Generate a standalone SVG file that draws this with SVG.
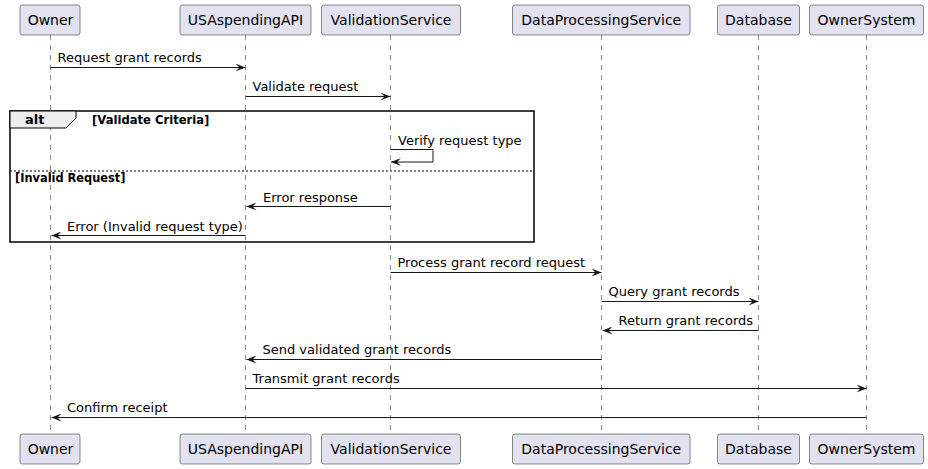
<svg xmlns="http://www.w3.org/2000/svg" width="928" height="469" viewBox="0 0 928 469">
<defs>
<style>
.box{fill:#E2E2F0;stroke:#181818;stroke-width:0.5}
.pt{font-family:"DejaVu Sans",sans-serif;font-size:14px;fill:#000;text-anchor:middle}
.life{stroke:#181818;stroke-width:0.5;stroke-dasharray:5,5;fill:none}
.msg{stroke:#181818;stroke-width:1;fill:none}
.mt{font-family:"DejaVu Sans",sans-serif;font-size:13px;fill:#000}
.bold{font-family:"DejaVu Sans",sans-serif;font-weight:bold;fill:#000}
</style>
<marker id="ah" viewBox="0 0 10 8" refX="10" refY="4" markerWidth="10" markerHeight="8" markerUnits="userSpaceOnUse" orient="auto">
<polygon points="0,0 10,4 0,8 4,4" fill="#181818"/>
</marker>
</defs>
<rect width="928" height="469" fill="#FFFFFF"/>
<g id="lifelines">
<line class="life" x1="50.5" y1="35" x2="50.5" y2="434"/>
<line class="life" x1="245.5" y1="35" x2="245.5" y2="434"/>
<line class="life" x1="390.5" y1="35" x2="390.5" y2="434"/>
<line class="life" x1="601.5" y1="35" x2="601.5" y2="434"/>
<line class="life" x1="758.5" y1="35" x2="758.5" y2="434"/>
<line class="life" x1="866.5" y1="35" x2="866.5" y2="434"/>
</g>
<g id="alt-frame">
<rect x="10" y="111" width="524" height="131" fill="none" stroke="#000" stroke-width="1.5"/>
<path d="M10,111 H76 V118 L66,128 H10 Z" fill="#EEEEEE" stroke="#000" stroke-width="1"/>
<text class="bold" x="25" y="124" font-size="13">alt</text>
<text class="bold" x="92" y="124" font-size="11.6">[Validate Criteria]</text>
<line x1="10" y1="171" x2="534" y2="171" stroke="#000" stroke-width="1" stroke-dasharray="2,2"/>
<text class="bold" x="15" y="182" font-size="11.4">[Invalid Request]</text>
</g>
<g id="p-owner">
<rect class="box" x="20" y="5" width="60" height="30" rx="2.5"/>
<text class="pt" x="50.5" y="25">Owner</text>
<rect class="box" x="20" y="434" width="60" height="30" rx="2.5"/>
<text class="pt" x="50.5" y="454">Owner</text>
</g>
<g id="p-usaspendingapi">
<rect class="box" x="180" y="5" width="131" height="30" rx="2.5"/>
<text class="pt" x="245.5" y="25">USAspendingAPI</text>
<rect class="box" x="180" y="434" width="131" height="30" rx="2.5"/>
<text class="pt" x="245.5" y="454">USAspendingAPI</text>
</g>
<g id="p-validationservice">
<rect class="box" x="321.5" y="5" width="139" height="30" rx="2.5"/>
<text class="pt" x="391" y="25">ValidationService</text>
<rect class="box" x="321.5" y="434" width="139" height="30" rx="2.5"/>
<text class="pt" x="391" y="454">ValidationService</text>
</g>
<g id="p-dataprocessingservice">
<rect class="box" x="512.5" y="5" width="177.5" height="30" rx="2.5"/>
<text class="pt" x="601.25" y="25">DataProcessingService</text>
<rect class="box" x="512.5" y="434" width="177.5" height="30" rx="2.5"/>
<text class="pt" x="601.25" y="454">DataProcessingService</text>
</g>
<g id="p-database">
<rect class="box" x="717.5" y="5" width="82" height="30" rx="2.5"/>
<text class="pt" x="758.5" y="25">Database</text>
<rect class="box" x="717.5" y="434" width="82" height="30" rx="2.5"/>
<text class="pt" x="758.5" y="454">Database</text>
</g>
<g id="p-ownersystem">
<rect class="box" x="809.5" y="5" width="114" height="30" rx="2.5"/>
<text class="pt" x="866.5" y="25">OwnerSystem</text>
<rect class="box" x="809.5" y="434" width="114" height="30" rx="2.5"/>
<text class="pt" x="866.5" y="454">OwnerSystem</text>
</g>
<g id="connectors">
<line class="msg" x1="50.5" y1="67.5" x2="245.5" y2="67.5" marker-end="url(#ah)"/>
<text class="mt" x="57.5" y="62">Request grant records</text>
<line class="msg" x1="245.5" y1="96.5" x2="390.5" y2="96.5" marker-end="url(#ah)"/>
<text class="mt" x="252.5" y="91">Validate request</text>
<polyline class="msg" points="390.5,149.5 433,149.5 433,162 391,162" marker-end="url(#ah)"/>
<text class="mt" x="398" y="144.5">Verify request type</text>
<line class="msg" x1="390.5" y1="206.5" x2="246.5" y2="206.5" marker-end="url(#ah)"/>
<text class="mt" x="263" y="201.5">Error response</text>
<line class="msg" x1="245.5" y1="235.5" x2="51.5" y2="235.5" marker-end="url(#ah)"/>
<text class="mt" x="67" y="230.5">Error (Invalid request type)</text>
<line class="msg" x1="390.5" y1="272.5" x2="601.5" y2="272.5" marker-end="url(#ah)"/>
<text class="mt" x="397.5" y="267">Process grant record request</text>
<line class="msg" x1="601.5" y1="301.5" x2="758.5" y2="301.5" marker-end="url(#ah)"/>
<text class="mt" x="608.5" y="296">Query grant records</text>
<line class="msg" x1="758.5" y1="330.5" x2="602.5" y2="330.5" marker-end="url(#ah)"/>
<text class="mt" x="618.5" y="325">Return grant records</text>
<line class="msg" x1="601.5" y1="359.5" x2="246.5" y2="359.5" marker-end="url(#ah)"/>
<text class="mt" x="262.5" y="354">Send validated grant records</text>
<line class="msg" x1="245.5" y1="388.5" x2="866.5" y2="388.5" marker-end="url(#ah)"/>
<text class="mt" x="252.5" y="383">Transmit grant records</text>
<line class="msg" x1="866.5" y1="417.5" x2="51.5" y2="417.5" marker-end="url(#ah)"/>
<text class="mt" x="67" y="412">Confirm receipt</text>
</g>
</svg>
